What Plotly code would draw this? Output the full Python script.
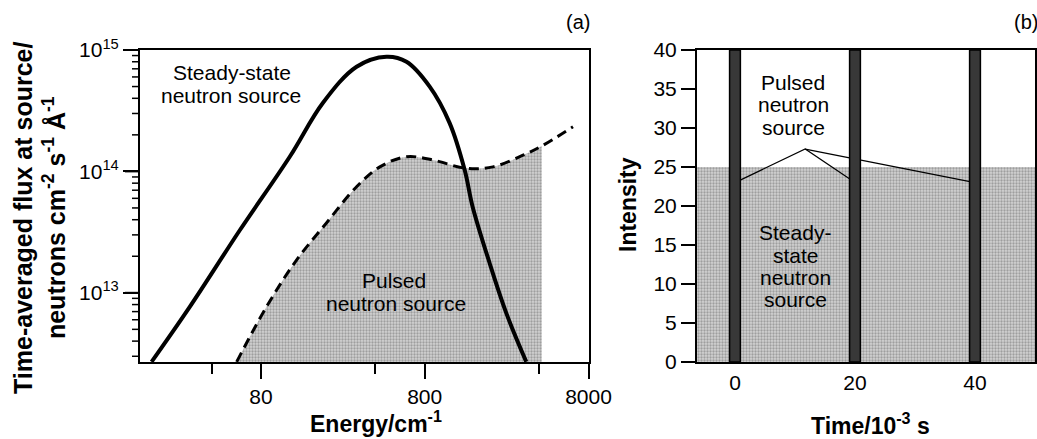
import math
import plotly.graph_objects as go

W, H = 1037, 439

# ---------------- data: panel (a) ----------------
steady_E = [17.2, 29.5, 59.6, 120, 191, 307, 467, 619, 858, 1136, 1402, 1570, 1991, 2518, 3335]
steady_F = [2.7e12, 7.7e12, 3.29e13, 1.32e14, 3.66e14, 7.28e14, 8.8e14, 8.0e14, 4.99e14, 2.5e14,
            1.03e14, 5.1e13, 1.76e13, 6.8e12, 2.7e12]

pulsed_E = [56.9, 86.7, 132, 201, 307, 426, 619, 899, 1436, 2088, 3184, 4150, 6430]
pulsed_F = [2.7e12, 7.7e12, 1.86e13, 3.76e13, 7.48e13, 1.09e14, 1.32e14, 1.24e14, 1.06e14,
            1.09e14, 1.36e14, 1.62e14, 2.33e14]
pulsed_fill_end = 4150   # shaded region stops here
flux_floor = 1e12

e_tickvals = [80, 800, 8000]
e_ticktext = ["80", "800", "8000"]
e_minor = [40, 400, 4000]
f_tickvals = [1e13, 1e14, 1e15]
f_ticktext = ["10<sup>13</sup>", "10<sup>14</sup>", "10<sup>15</sup>"]
f_minor = [d * 10.0 ** e for e in (12, 13, 14) for d in range(2, 10)]

# ---------------- data: panel (b) ----------------
time_range = [-6.33, 50]
steady_level = 25
pulse_times = [0, 20, 40]
pulse_width = 1.8
intensity_max = 40
decay_t = [0, 11.7, 20, None, 11.7, 40]
decay_I = [23, 27.3, 23, None, 27.3, 23]

FONT = "Liberation Sans, Arial, Helvetica, sans-serif"
F_RANGE = [12.43, 15.0]

def px(x):
    return x / W

def py(y):
    return 1 - y / H

Y_DOM = [py(362), py(50)]
LEFT_X = 140

stipple = dict(shape=".", bgcolor="#d2d2d2", fgcolor="#6a6a6a", size=3, solidity=0.45)

fig = go.Figure()

# panel (a) shaded region under pulsed curve
fill_E = [e for e in pulsed_E if e <= pulsed_fill_end]
fill_F = pulsed_F[:len(fill_E)]
fig.add_trace(go.Scatter(x=[fill_E[0], fill_E[-1]], y=[flux_floor, flux_floor], mode="lines",
                         line=dict(width=0), xaxis="x", yaxis="y", showlegend=False, hoverinfo="skip"))
fig.add_trace(go.Scatter(x=fill_E, y=fill_F, mode="lines", line=dict(width=0, shape="spline"),
                         fill="tonexty", fillcolor="#c4c4c4", fillpattern=stipple,
                         xaxis="x", yaxis="y", showlegend=False, hoverinfo="skip"))
fig.add_trace(go.Scatter(x=pulsed_E, y=pulsed_F, mode="lines",
                         line=dict(color="black", width=3, dash="10px,6px", shape="spline"),
                         xaxis="x", yaxis="y", showlegend=False))
fig.add_trace(go.Scatter(x=steady_E, y=steady_F, mode="lines",
                         line=dict(color="black", width=4, shape="spline"),
                         xaxis="x", yaxis="y", showlegend=False))

# panel (b)
fig.add_trace(go.Scatter(x=time_range, y=[steady_level, steady_level], mode="lines",
                         line=dict(width=0), fill="tozeroy", fillcolor="#c4c4c4", fillpattern=stipple,
                         xaxis="x2", yaxis="y2", showlegend=False, hoverinfo="skip"))
fig.add_trace(go.Scatter(x=decay_t, y=decay_I, mode="lines", line=dict(color="black", width=1.2),
                         xaxis="x2", yaxis="y2", showlegend=False))
bx, by = [], []
for t in pulse_times:
    bx += [t - pulse_width / 2, t + pulse_width / 2, t + pulse_width / 2, t - pulse_width / 2,
           t - pulse_width / 2, None]
    by += [0, 0, intensity_max, intensity_max, 0, None]
fig.add_trace(go.Scatter(x=bx, y=by, mode="lines", fill="toself", fillcolor="#383838",
                         line=dict(color="black", width=1.5), xaxis="x2", yaxis="y2",
                         showlegend=False))

axis_common = dict(showline=True, linecolor="black", linewidth=2, mirror=True, showgrid=False,
                   zeroline=False, automargin=False,
                   tickfont=dict(size=21, color="black", family=FONT))

fig.update_layout(
    width=W, height=H, margin=dict(l=0, r=0, t=0, b=0, autoexpand=False),
    paper_bgcolor="white", plot_bgcolor="white",
    font=dict(family=FONT, color="black"),
    xaxis=dict(domain=[px(LEFT_X), px(589)], type="log", range=[1.165, 3.906],
               tickvals=e_tickvals, ticktext=e_ticktext, ticks="outside", ticklen=15, tickwidth=1.5,
               tickcolor="black",
               minor=dict(tickvals=e_minor, ticks="outside", ticklen=10, tickwidth=1.5, tickcolor="black"),
               anchor="y", **axis_common),
    yaxis=dict(domain=Y_DOM, type="log", range=F_RANGE,
               tickvals=f_tickvals, ticktext=f_ticktext,
               ticks="outside", ticklen=15, tickwidth=2, tickcolor="black",
               anchor="x", **axis_common),
    xaxis2=dict(domain=[px(697), px(1035)], range=time_range, tickvals=pulse_times,
                ticks="", ticklabelstandoff=1, anchor="y2", **axis_common),
    yaxis2=dict(domain=Y_DOM, range=[0, intensity_max], dtick=5, ticks="outside",
                ticklen=14, tickwidth=1.5, tickcolor="black", anchor="x2", **axis_common),
)

# left-panel y tick marks (major + log minor), placed through the axis' log scale
def flux_to_paper(v):
    frac = (math.log10(v) - F_RANGE[0]) / (F_RANGE[1] - F_RANGE[0])
    return Y_DOM[0] + frac * (Y_DOM[1] - Y_DOM[0])

for vals, length, width in ((f_tickvals, 15, 2), (f_minor, 8, 1.5)):
    for v in vals:
        if F_RANGE[0] <= math.log10(v) <= F_RANGE[1]:
            yy = flux_to_paper(v)
            fig.add_shape(type="line", xref="paper", yref="paper",
                          x0=px(LEFT_X - length), x1=px(LEFT_X), y0=yy, y1=yy,
                          line=dict(color="black", width=width), layer="above")

def ann(text, x, y, size=21, bold=False, angle=0):
    fig.add_annotation(text=(f"<b>{text}</b>" if bold else text), x=px(x), y=py(y),
                       xref="paper", yref="paper", xanchor="center", yanchor="middle",
                       showarrow=False, textangle=angle, font=dict(size=size, color="black", family=FONT))

# axis titles
ann("Energy/cm<sup>-1</sup>", 376, 422, size=23, bold=True)
ann("Time/10<sup>-3</sup> s", 870, 424, size=23, bold=True)
ann("Intensity", 628, 205, size=23, bold=True, angle=-90)
ann("Time-averaged flux at source/<br>neutrons cm<sup>-2</sup> s<sup>-1</sup> Å<sup>-1</sup>", 40, 218,
    size=25, bold=True, angle=-90)

# panel labels
ann("(a)", 578, 22, size=20)
ann("(b)", 1026, 22, size=20)

# in-plot labels panel (a)
ann("Steady-state", 232, 73)
ann("neutron source", 231, 95)
ann("Pulsed", 394, 280)
ann("neutron source", 396, 303)

# in-plot labels panel (b)
ann("Pulsed", 793, 82)
ann("neutron", 793, 104)
ann("source", 793, 127)
ann("Steady-", 795, 232)
ann("state", 796, 255)
ann("neutron", 795, 277)
ann("source", 795, 299)

fig.write_html("out.html")
